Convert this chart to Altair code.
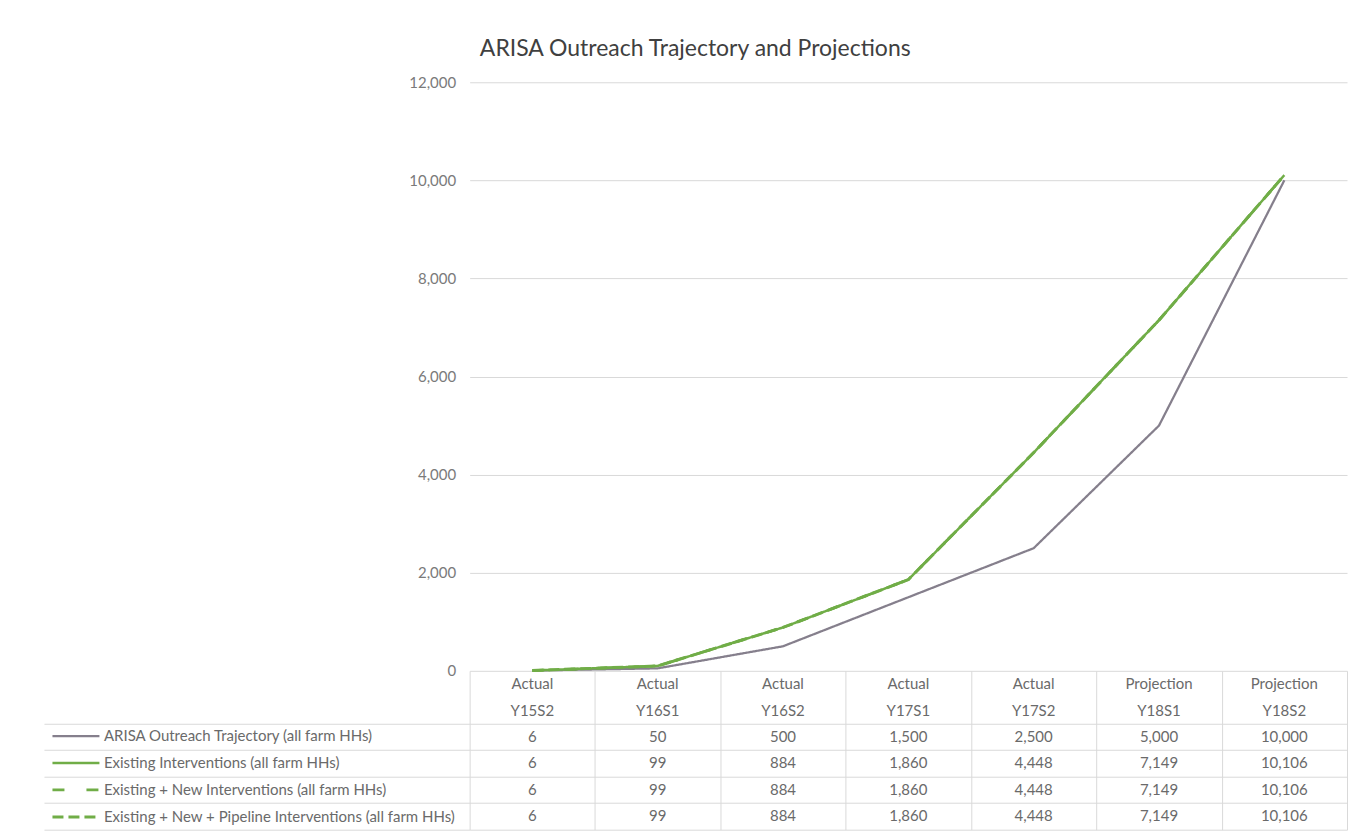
import altair as alt
import pandas as pd

FONT = "Lato"
TEXT_GRAY = "#6a6a6a"
GRID = "#d9d9d9"

# ---- data ----
status = ["Actual", "Actual", "Actual", "Actual", "Actual", "Projection", "Projection"]
periods = ["Y15S2", "Y16S1", "Y16S2", "Y17S1", "Y17S2", "Y18S1", "Y18S2"]
series_names = [
    "ARISA Outreach Trajectory (all farm HHs)",
    "Existing Interventions (all farm HHs)",
    "Existing + New Interventions (all farm HHs)",
    "Existing + New + Pipeline Interventions (all farm HHs)",
]
arisa = [6, 50, 500, 1500, 2500, 5000, 10000]
existing = [6, 99, 884, 1860, 4448, 7149, 10106]
existing_new = [6, 99, 884, 1860, 4448, 7149, 10106]
existing_new_pipeline = [6, 99, 884, 1860, 4448, 7149, 10106]
y_ticks = [0, 2000, 4000, 6000, 8000, 10000, 12000]

series_values = [arisa, existing, existing_new, existing_new_pipeline]
series_colors = ["#857f8c", "#70AD47", "#70AD47", "#70AD47"]
series_dashes = [[1, 0], [1, 0], [12, 22], [11, 5]]
series_widths = [2.25, 3, 3, 3]

# ---- tables ----
line_rows = []
for name, vals in zip(series_names, series_values):
    for p, v in zip(periods, vals):
        line_rows.append({"period": p, "series": name, "value": v})
line_df = pd.DataFrame(line_rows)

row_keys = ["h1", "h2"] + series_names
table_rows = []
for s, p in zip(status, periods):
    table_rows.append({"period": p, "row": "h1", "label": s})
    table_rows.append({"period": p, "row": "h2", "label": p})
for name, vals in zip(series_names, series_values):
    for p, v in zip(periods, vals):
        table_rows.append({"period": p, "row": name, "label": f"{v:,}"})
table_df = pd.DataFrame(table_rows)

x_scale = alt.Scale(type="band", domain=periods, paddingInner=0, paddingOuter=0)

legend = alt.Legend(
    title=None, orient="none", legendX=-419, legendY=641,
    symbolType="stroke", symbolSize=2209, symbolStrokeWidth=3,
    clipHeight=26.5, rowPadding=0, labelFontSize=15, labelColor=TEXT_GRAY,
    labelFont=FONT, labelLimit=420, labelOffset=3, padding=0,
)

lines = alt.Chart(line_df).mark_line(strokeJoin="round").encode(
    x=alt.X("period:N", scale=x_scale, axis=None),
    y=alt.Y(
        "value:Q",
        scale=alt.Scale(domain=[0, 12000], nice=False),
        axis=alt.Axis(values=y_ticks, format=",.0f", title=None, ticks=False,
                      domain=False, labelPadding=14, gridColor=GRID,
                      labelColor="#7a7a7a"),
    ),
    color=alt.Color("series:N", scale=alt.Scale(domain=series_names, range=series_colors),
                    legend=legend),
    strokeDash=alt.StrokeDash("series:N",
                              scale=alt.Scale(domain=series_names, range=series_dashes),
                              legend=legend),
    strokeWidth=alt.StrokeWidth("series:N",
                                scale=alt.Scale(domain=series_names, range=series_widths),
                                legend=None),
).properties(width=878, height=589)

hide_h1 = {"condition": {"test": "datum.value === 'h1'", "value": 0}, "value": 1}

table = alt.Chart(table_df).mark_text(fontSize=15, color=TEXT_GRAY, font=FONT).encode(
    x=alt.X("period:N", scale=x_scale,
            axis=alt.Axis(title=None, labels=False, ticks=False, domain=False,
                          grid=True, tickBand="extent", gridColor=GRID)),
    y=alt.Y("row:N",
            scale=alt.Scale(type="band", domain=row_keys, paddingInner=0, paddingOuter=0),
            axis=alt.Axis(title=None, labels=False, domain=False, bandPosition=1,
                          ticks=True, tickSize=426, tickColor=GRID, tickOpacity=hide_h1,
                          grid=True, gridColor=GRID, gridOpacity=hide_h1)),
    text="label:N",
).properties(width=878, height=159)

chart = alt.vconcat(lines, table, spacing=0, bounds="flush").resolve_scale(
    y="independent"
).properties(
    title=alt.TitleParams("ARISA Outreach Trajectory and Projections", fontSize=23,
                          font=FONT, color="#404040", fontWeight="normal",
                          anchor="middle", frame="bounds", offset=14),
    padding={"left": 35, "top": 30, "right": 5, "bottom": 0},
    background="white",
).configure_view(stroke=None).configure_axis(
    labelFont=FONT, labelColor=TEXT_GRAY, labelFontSize=15
)

chart.save("out.html", embed_options={"renderer": "svg", "actions": False})
